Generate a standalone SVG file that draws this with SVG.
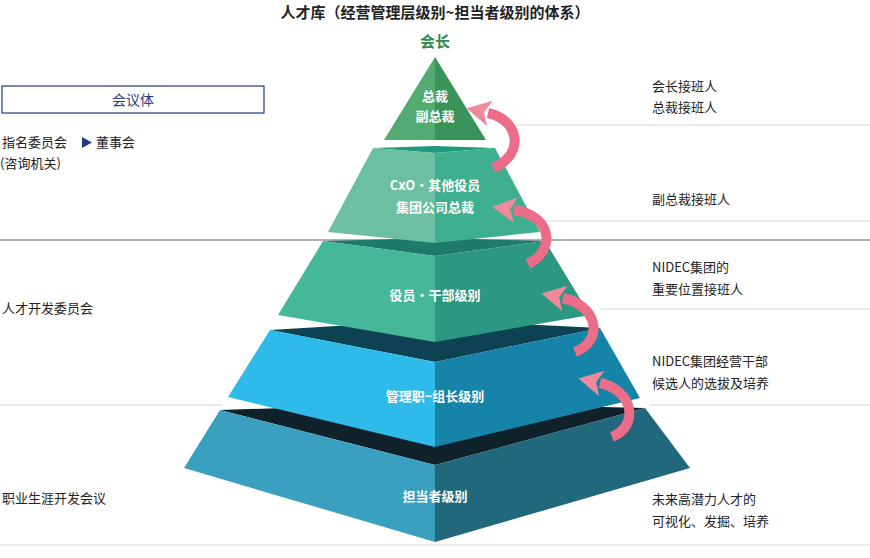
<svg xmlns="http://www.w3.org/2000/svg" width="870" height="558" viewBox="0 0 870 558">
<style>
text{font-family:"Noto Sans CJK SC","Noto Sans",sans-serif;}
.t{font-size:13px;fill:#222;}
.w{font-size:13px;fill:#fff;font-weight:bold;text-anchor:middle;}
.ln{stroke:#d8d8d8;stroke-width:1;}
.arr{fill:none;stroke:#ec6d88;stroke-width:10;}
</style>
<defs>
<marker id="ah" markerUnits="userSpaceOnUse" markerWidth="26" markerHeight="26" refX="4" refY="13" orient="auto"><path d="M0,13 L24,0 L18,13 L24,26 Z" fill="#ef8a9c" transform="rotate(180 13 13)"/></marker>
</defs>
<g id="lines">
<line class="ln" x1="505" y1="125" x2="870" y2="125"/>
<line class="ln" x1="540" y1="221" x2="870" y2="221"/>
<line x1="0" y1="240" x2="870" y2="240" stroke="#999" stroke-width="1.5"/>
<line class="ln" x1="600" y1="309" x2="870" y2="309"/>
<line class="ln" x1="0" y1="405" x2="222" y2="405"/>
<line class="ln" x1="650" y1="405" x2="870" y2="405"/>
<line class="ln" x1="0" y1="545" x2="870" y2="545"/>
</g>
<g id="title">
<text x="435" y="18" font-size="15" font-weight="bold" text-anchor="middle" fill="#222">人才库（经营管理层级别~担当者级别的体系）</text>
<text x="435" y="47" font-size="15" font-weight="bold" text-anchor="middle" fill="#2e8b4e">会长</text>
</g>
<g id="tier5">
<polygon points="220,410 435,403 645,408 435,465" fill="#0f222b"/>
<polygon points="184,468 220,410 435,465 435,542" fill="#3aa0c0"/>
<polygon points="435,465 645,408 690,468 435,542" fill="#22687c"/>
<text class="w" x="435" y="501">担当者级别</text>
</g>
<g id="tier4">
<polygon points="270,330 435,320 600,328 435,362" fill="#0c4252"/>
<polygon points="228,397 270,330 435,362 435,447" fill="#2fbbea"/>
<polygon points="435,362 600,328 640,398 435,447" fill="#1683a8"/>
<text class="w" x="435" y="401">管理职~组长级别</text>
</g>
<g id="tier3">
<polygon points="323,241 435,238 545,241 435,256" fill="#1f7b69"/>
<polygon points="278,315 323,241 435,256 435,342" fill="#45b898"/>
<polygon points="435,256 545,241 590,315 435,342" fill="#2d9882"/>
<text class="w" x="435" y="300">役员・干部级别</text>
</g>
<g id="tier2">
<polygon points="373,148 435,146 495,148 435,153" fill="#1f9a7c"/>
<polygon points="328,232 373,148 435,153 435,243" fill="#6cc0a2"/>
<polygon points="435,153 495,148 540,232 435,243" fill="#3fb08f"/>
<text class="w" x="435" y="190">CxO・其他役员</text>
<text class="w" x="435" y="212">集团公司总裁</text>
</g>
<g id="tier1">
<polygon points="435,57 384,140 435,140" fill="#52ab70"/>
<polygon points="435,57 435,140 486,140" fill="#3a9459"/>
<text class="w" x="435" y="101">总裁</text>
<text class="w" x="435" y="121">副总裁</text>
</g>
<g id="arrows">
<path class="arr" d="M493,168 C525,155 520,120 488,113" marker-end="url(#ah)"/>
<path class="arr" d="M528,264 C558,248 550,215 514,210" marker-end="url(#ah)"/>
<path class="arr" d="M575,352 C605,340 597,305 563,298" marker-end="url(#ah)"/>
<path class="arr" d="M612,437 C640,425 633,390 600,383" marker-end="url(#ah)"/>
</g>
<g id="left">
<rect x="2" y="86" width="262" height="27" fill="#fff" stroke="#1f3b7a" stroke-width="1.2"/>
<text x="133" y="105" font-size="14" text-anchor="middle" fill="#1f3b7a">会议体</text>
<text class="t" x="2" y="147">指名委员会</text>
<polygon points="82,137 82,148 92,142.5" fill="#1f3b7a"/>
<text class="t" x="96" y="147">董事会</text>
<text class="t" x="0" y="168">(咨询机关)</text>
<text class="t" x="2" y="313">人才开发委员会</text>
<text class="t" x="2" y="503">职业生涯开发会议</text>
</g>
<g id="right">
<text class="t" x="652" y="91">会长接班人</text>
<text class="t" x="652" y="112">总裁接班人</text>
<text class="t" x="652" y="204">副总裁接班人</text>
<text class="t" x="652" y="272">NIDEC集团的</text>
<text class="t" x="652" y="294">重要位置接班人</text>
<text class="t" x="652" y="366">NIDEC集团经营干部</text>
<text class="t" x="652" y="388">候选人的选拔及培养</text>
<text class="t" x="652" y="504">未来高潜力人才的</text>
<text class="t" x="652" y="526">可视化、发掘、培养</text>
</g>
</svg>
